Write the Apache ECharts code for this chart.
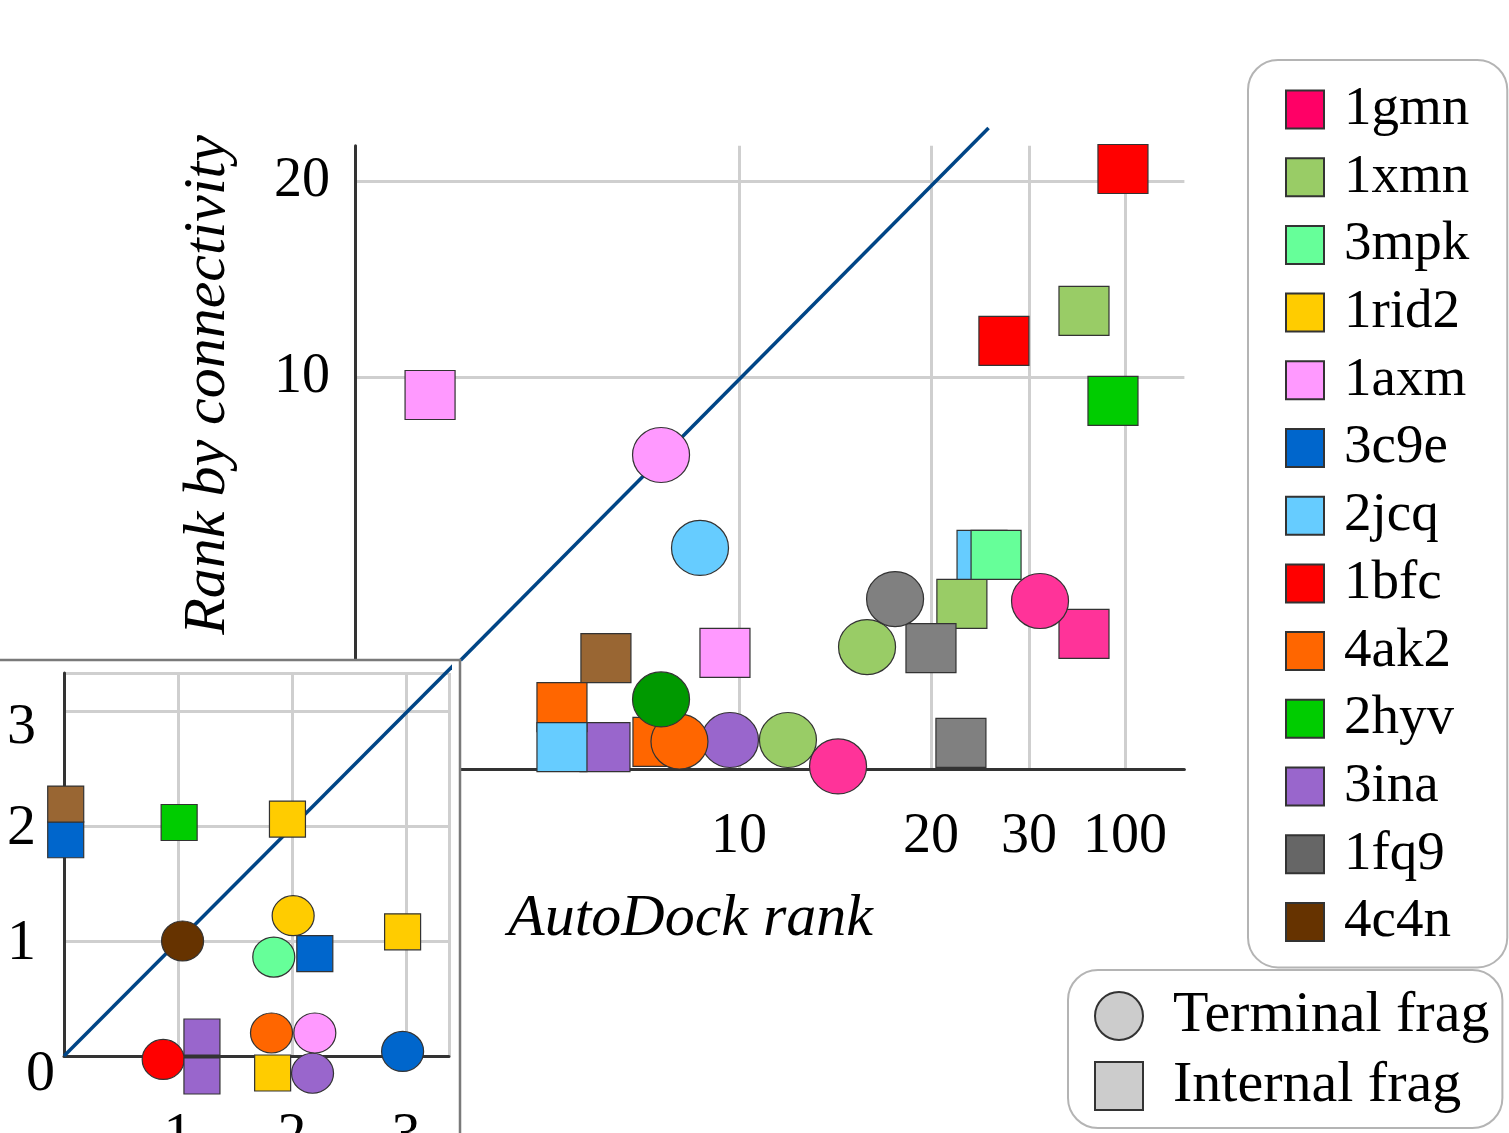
<!DOCTYPE html>
<html>
<head>
<meta charset="utf-8">
<script src="https://cdn.jsdelivr.net/npm/echarts@6/dist/echarts.min.js"></script>
<style>
html,body{margin:0;padding:0;background:#fff;}
#chart{width:1509px;height:1133px;}
</style>
</head>
<body>
<div id="chart"></div>
<script>
// ---------- DATA ----------
// Proteins (legend order) and their colours
const proteins      = ['1gmn','1xmn','3mpk','1rid2','1axm','3c9e','2jcq','1bfc','4ak2','2hyv','3ina','1fq9','4c4n'];
const legendColors  = ['#FF0066','#99CC66','#66FF99','#FFCC00','#FF99FF','#0066CC','#66CCFF','#FF0000','#FF6600','#00CC00','#9966CC','#666666','#663300'];
const terminalColors= ['#FF3399','#99CC66','#66FF99','#FFCC00','#FF99FF','#0066CC','#66CCFF','#FF0000','#FF6600','#009900','#9966CC','#808080','#663300'];
const internalColors= ['#FF3399','#99CC66','#66FF99','#FFCC00','#FF99FF','#0066CC','#66CCFF','#FF0000','#FF6600','#00CC00','#9966CC','#808080','#996633'];
// drawing order (later drawn on top)
const drawOrder = ['1rid2','1axm','3c9e','4c4n','1bfc','1xmn','1fq9','1gmn','3ina','4ak2','2hyv','2jcq','3mpk'];

// Main panel: positions on the broken rank scale (ticks below)
const mainXTickPos    = [10, 20, 25.1, 30.1];
const mainXTickLabels = ['10', '20', '30', '100'];
const mainYTickPos    = [10, 20];
const mainYTickLabels = ['10', '20'];

// [protein, AutoDock rank position, connectivity rank position]
const mainInternal = [
  ['1axm', -6.09, 9.08], ['1bfc', 30.0, 20.61], ['1bfc', 23.80, 11.84], ['1xmn', 27.97, 13.37],
  ['2hyv', 29.48, 8.78], ['2jcq', 22.66, 0.92], ['3mpk', 23.39, 0.92], ['1xmn', 21.61, -1.58],
  ['1fq9', 20.0, -3.83], ['1gmn', 27.97, -3.11], ['1fq9', 21.56, -8.67], ['1axm', 9.27, -4.08],
  ['4c4n', 3.07, -4.34], ['4ak2', 0.78, -6.84], ['2jcq', 0.78, -8.88], ['3ina', 3.02, -8.88],
  ['4ak2', 5.78, -8.62]
];
const mainTerminal = [
  ['1axm', 5.94, 6.02], ['2jcq', 7.97, 1.28], ['1fq9', 18.13, -1.33], ['1xmn', 16.67, -3.78],
  ['1gmn', 25.68, -1.43], ['2hyv', 5.94, -6.45], ['4ak2', 6.90, -8.60], ['3ina', 9.53, -8.52],
  ['1xmn', 12.55, -8.52], ['1gmn', 15.16, -9.87]
];
// Inset panel (ranks 0-3)
const insetTicks = [0, 1, 2, 3];
const insetInternal = [
  ['4c4n', 0.015, 2.19], ['3c9e', 0.015, 1.88], ['2hyv', 1.01, 2.03], ['1rid2', 1.96, 2.06],
  ['1rid2', 2.97, 1.08], ['3c9e', 2.20, 0.89], ['3ina', 1.21, 0.165], ['3ina', 1.21, -0.174],
  ['1rid2', 1.83, -0.148]
];
const insetTerminal = [
  ['4c4n', 1.04, 1.0], ['1rid2', 2.01, 1.22], ['3mpk', 1.84, 0.86], ['1bfc', 0.87, -0.03],
  ['4ak2', 1.82, 0.2], ['1axm', 2.20, 0.2], ['3ina', 2.18, -0.15], ['3c9e', 2.97, 0.04]
];
const diagonalMain  = [[-4.5, -4.45], [23, 22.7]];
const diagonalInset = [[0, 0], [3.46, 3.44]];

// ---------- CHART ----------
const FONT = 'Liberation Serif';
const chart = echarts.init(document.getElementById('chart'));

function items(rows, name, shape, size, colors) {
  const c = colors[proteins.indexOf(name)];
  return rows.filter(r => r[0] === name).map(r => ({
    value: [r[1], r[2]], symbol: shape, symbolSize: size, itemStyle: { color: c, opacity: 1 }
  }));
}

const series = [];
series.push({ type: 'line', name: 'diag', xAxisIndex: 0, yAxisIndex: 0, data: diagonalMain,
  symbol: 'none', clip: false, z: 1, silent: true, lineStyle: { color: '#004586', width: 3.5 } });
series.push({ type: 'line', name: 'diag', xAxisIndex: 1, yAxisIndex: 1, data: diagonalInset,
  symbol: 'none', clip: false, z: 11.5, silent: true, lineStyle: { color: '#004586', width: 3.5 } });

drawOrder.forEach(name => {
  const i = proteins.indexOf(name);
  const base = { type: 'scatter', name: name, clip: false, silent: true,
    itemStyle: { color: legendColors[i], borderColor: '#333', borderWidth: 1.2, opacity: 1 } };
  series.push(Object.assign({}, base, { xAxisIndex: 0, yAxisIndex: 0, z: 2,
    data: items(mainInternal, name, 'rect', [50, 49], internalColors)
      .concat(items(mainTerminal, name, 'circle', [57, 55], terminalColors)) }));
  series.push(Object.assign({}, base, { xAxisIndex: 1, yAxisIndex: 1, z: 12,
    data: items(insetInternal, name, 'rect', [36, 36], internalColors)
      .concat(items(insetTerminal, name, 'circle', [42, 40], terminalColors)) }));
});
series.push({ type: 'scatter', name: 'Terminal frag', data: [], symbol: 'circle',
  itemStyle: { color: '#CCCCCC', borderColor: '#333', borderWidth: 1.2, opacity: 1 } });
series.push({ type: 'scatter', name: 'Internal frag', data: [], symbol: 'rect',
  itemStyle: { color: '#CCCCCC', borderColor: '#333', borderWidth: 1.2, opacity: 1 } });

const gridLine = { show: true, lineStyle: { color: '#cfcfcf', width: 3 } };
const axLine = { onZero: false, lineStyle: { color: '#333', width: 3 } };
const lab = { fontFamily: FONT, fontSize: 56, color: '#000' };

const option = {
  animation: false,
  backgroundColor: '#fff',
  grid: [
    { left: 355, top: 145.7, width: 829.4, height: 623.3, outerBoundsMode: 'none', containLabel: false },
    { left: 64, top: 673, width: 385, height: 383, outerBoundsMode: 'none', containLabel: false }
  ],
  xAxis: [
    { gridIndex: 0, type: 'value', min: -10, max: 33.2, axisLine: axLine,
      axisTick: { show: false, customValues: mainXTickPos },
      axisLabel: Object.assign({ customValues: mainXTickPos, margin: 40,
        formatter: v => mainXTickLabels[mainXTickPos.indexOf(v)] || '' }, lab),
      splitLine: gridLine },
    { gridIndex: 1, type: 'value', min: 0, max: 3.377, interval: 1, z: 11, axisLine: axLine,
      axisTick: { show: false },
      axisLabel: Object.assign({ margin: 52, formatter: v => (v === 0 ? '' : String(v)) }, lab, { fontSize: 58 }),
      splitLine: gridLine }
  ],
  yAxis: [
    { gridIndex: 0, type: 'value', min: -10, max: 21.8, axisLine: axLine,
      axisTick: { show: false, customValues: mainYTickPos },
      axisLabel: Object.assign({ customValues: mainYTickPos, margin: 25,
        formatter: v => mainYTickLabels[mainYTickPos.indexOf(v)] || '' }, lab),
      splitLine: gridLine },
    { gridIndex: 1, type: 'value', min: 0, max: 3.33, interval: 1, z: 11, axisLine: axLine,
      axisTick: { show: false },
      axisLabel: { margin: 9, color: '#000',
        formatter: v => (v === 0 ? '{z|0}' : (v === 3 ? '{t|3}' : '{n|' + v + '}')),
        rich: {
          n: { fontFamily: FONT, fontSize: 58, color: '#000', padding: [6, 19, 0, 0] },
          t: { fontFamily: FONT, fontSize: 58, color: '#000', padding: [34, 19, 0, 0] },
          z: { fontFamily: FONT, fontSize: 58, color: '#000', padding: [38, 0, 0, 0] }
        } },
      splitLine: gridLine }
  ],
  legend: [
    { data: proteins.map(n => ({ name: n, icon: 'rect' })), orient: 'vertical',
      left: 1248, top: 60, padding: [22, 38, 18, 37], itemWidth: 38, itemHeight: 38, itemGap: 12.7,
      selectedMode: false, backgroundColor: '#fff', borderColor: '#b4b4b4', borderWidth: 2, borderRadius: 30,
      textStyle: { fontFamily: FONT, fontSize: 55, color: '#000', padding: [0, 0, 0, 15] } },
    { data: [{ name: 'Terminal frag', icon: 'circle' }, { name: 'Internal frag', icon: 'rect' }],
      orient: 'vertical', left: 1068, top: 970, padding: [17, 13, 13, 26], itemWidth: 48, itemHeight: 48,
      itemGap: 12, selectedMode: false, backgroundColor: '#fff', borderColor: '#b4b4b4', borderWidth: 2,
      borderRadius: 30,
      textStyle: { fontFamily: FONT, fontSize: 58, color: '#000', padding: [0, 0, 0, 25] } }
  ],
  graphic: [
    { type: 'rect', z: 10, shape: { x: -5, y: 660, width: 465, height: 480 },
      style: { fill: '#fff', stroke: '#7a7a7a', lineWidth: 2.5 } },
    { type: 'text', z: 20, x: 508, y: 919,
      style: { text: 'AutoDock rank', fontFamily: FONT, fontStyle: 'italic', fontSize: 60, fill: '#000',
        align: 'left', verticalAlign: 'middle' } },
    { type: 'text', z: 20, x: 208, y: 385, rotation: Math.PI / 2,
      style: { text: 'Rank by connectivity', fontFamily: FONT, fontStyle: 'italic', fontSize: 60, fill: '#000',
        align: 'center', verticalAlign: 'middle' } }
  ],
  series: series
};
chart.setOption(option);
</script>
</body>
</html>
